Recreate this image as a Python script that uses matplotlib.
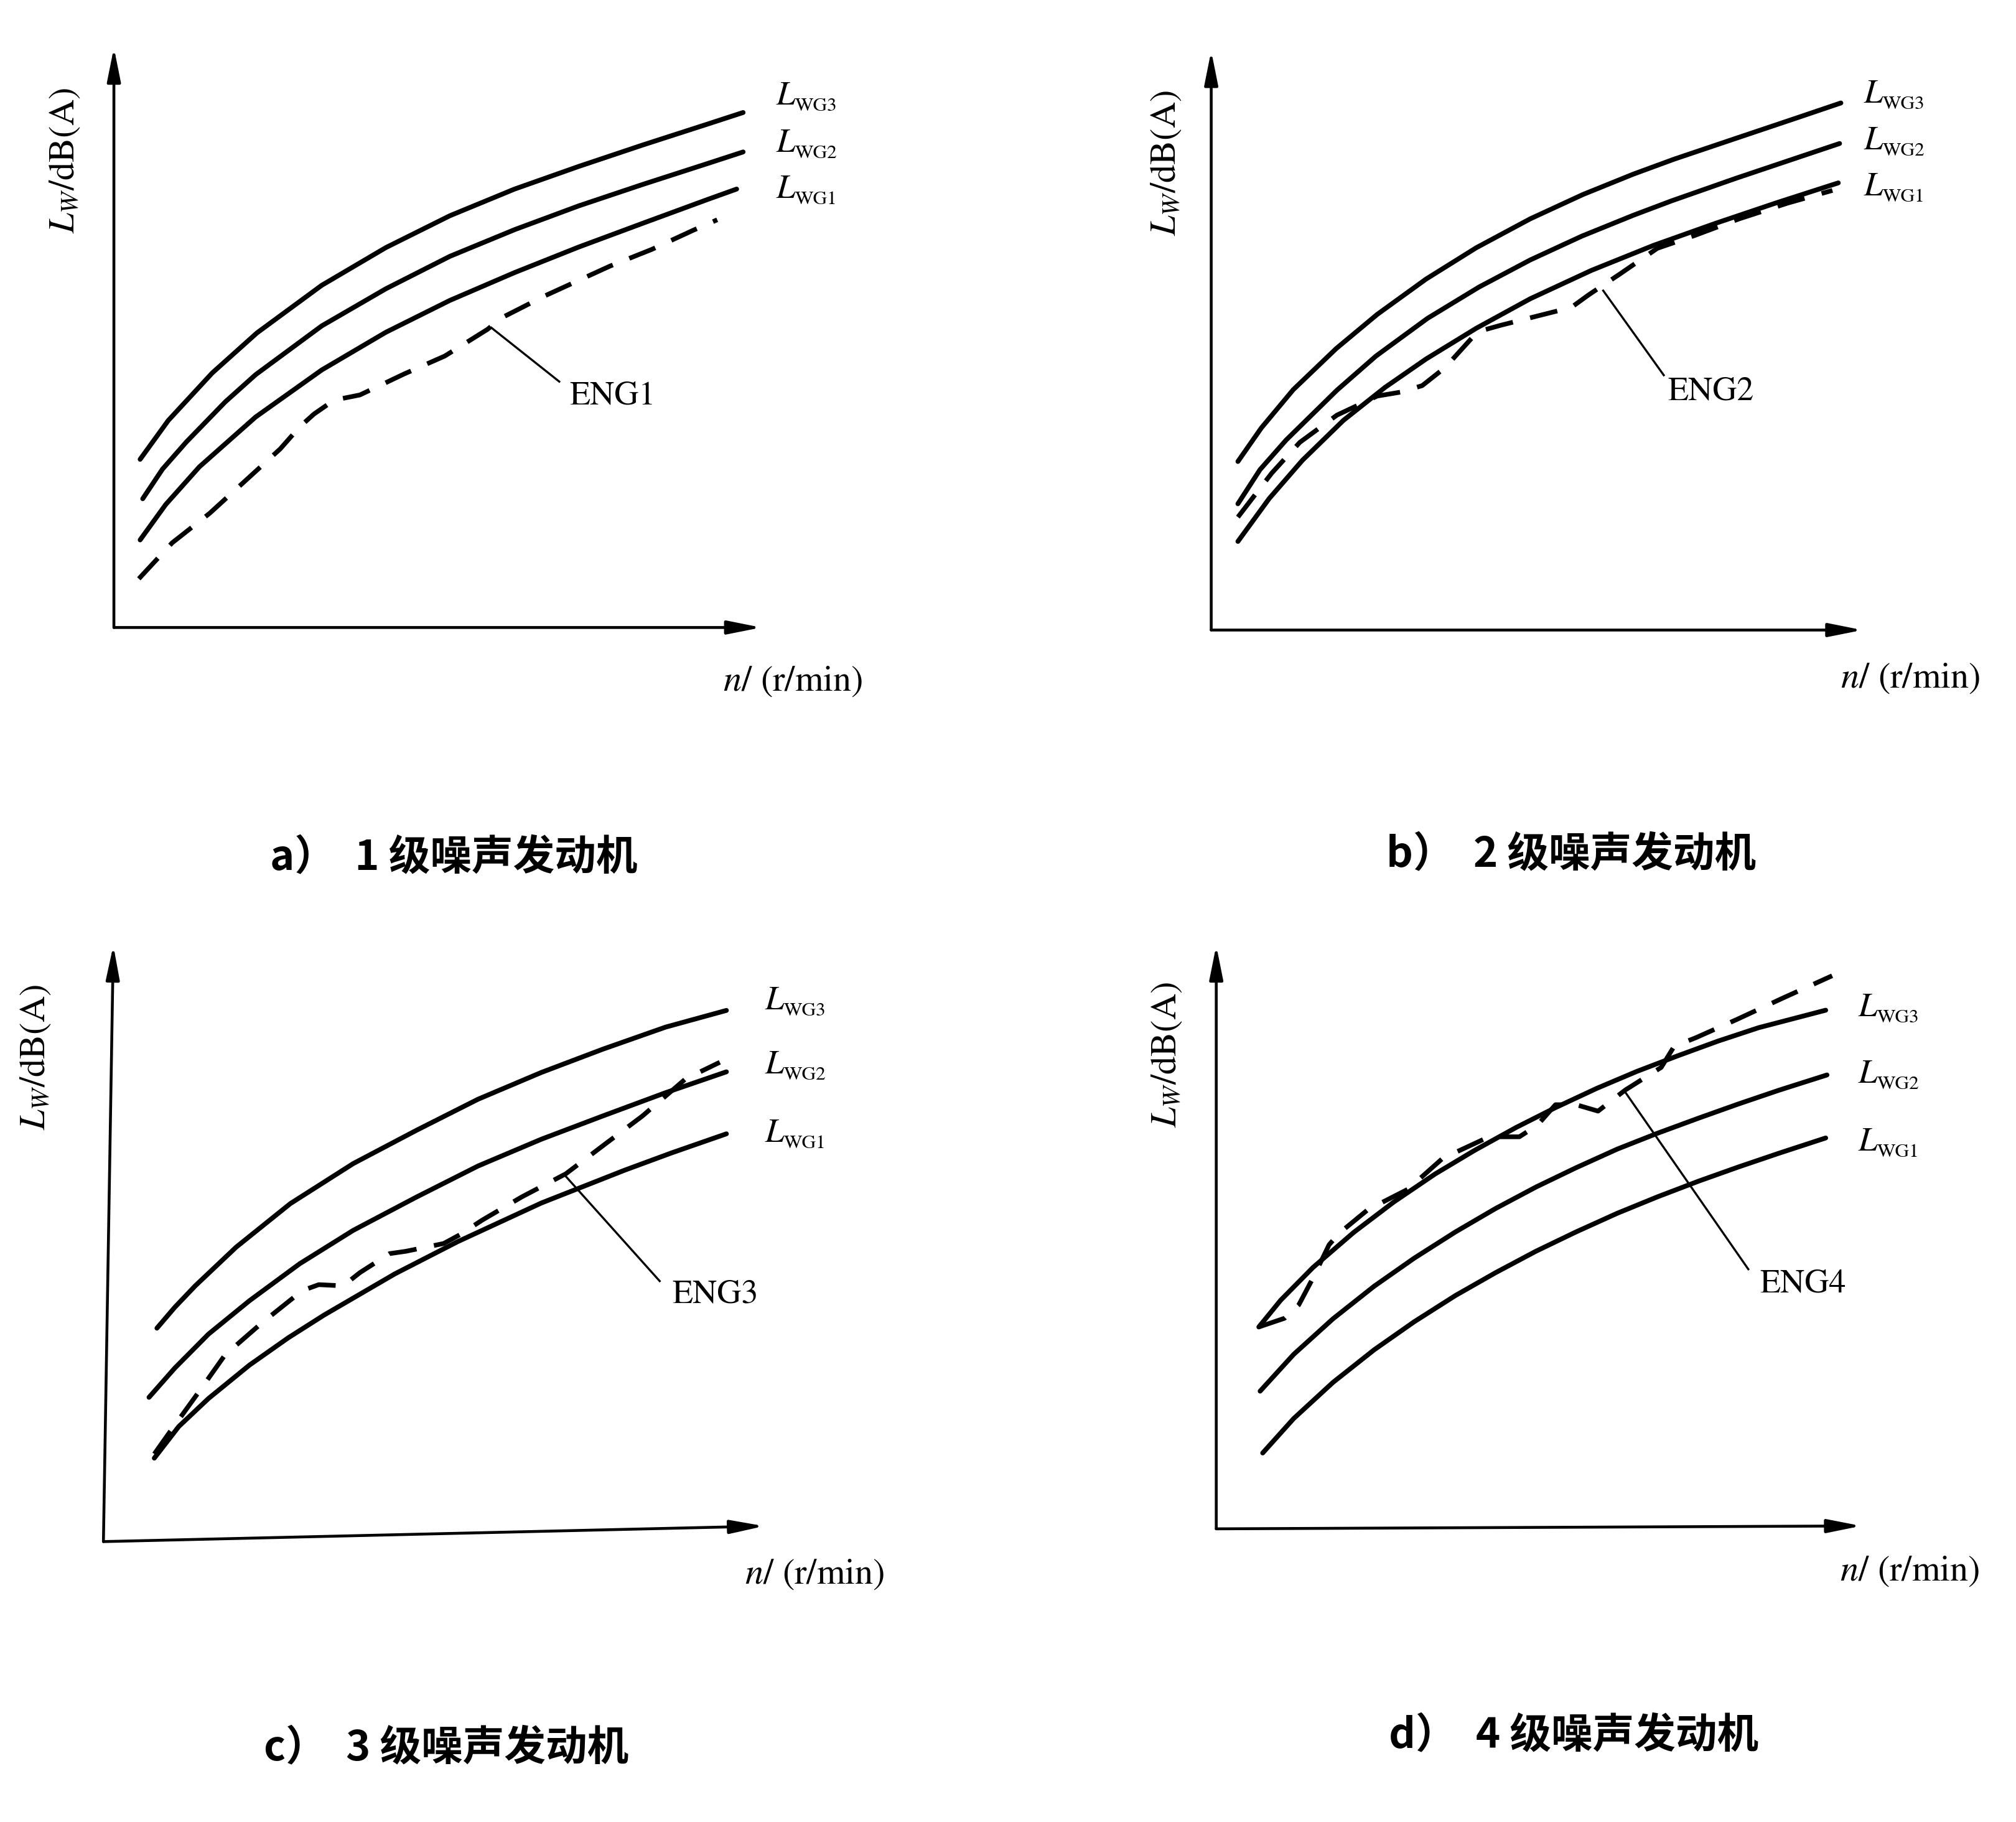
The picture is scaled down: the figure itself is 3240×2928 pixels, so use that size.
import matplotlib
matplotlib.use('Agg')
import matplotlib.pyplot as plt

# Values are read off the scanned figure. Both axes have no scale, so
# x = engine speed and y = sound power level, each in % of the drawn axis length.

# a) 1 级噪声发动机
a_wg3_x = [4.05, 8.4, 15.2, 22.1, 32.1, 42.0, 51.9, 61.9, 71.8, 81.7, 91.7, 97.2]
a_wg3_y = [29.0, 35.7, 43.9, 50.8, 59.0, 65.5, 71.0, 75.6, 79.5, 83.2, 86.8, 88.8]
a_wg2_x = [4.45, 7.5, 11.2, 17.2, 21.9, 32.1, 42.0, 51.9, 61.9, 71.8, 81.7, 91.7, 97.2]
a_wg2_y = [22.2, 27.3, 32.0, 38.9, 43.6, 52.0, 58.4, 64.0, 68.6, 72.7, 76.4, 80.0, 82.0]
a_wg1_x = [4.05, 8.0, 13.2, 21.9, 32.1, 42.0, 51.9, 61.9, 71.8, 81.7, 91.7, 96.2]
a_wg1_y = [15.1, 21.2, 27.7, 36.3, 44.4, 50.9, 56.4, 61.2, 65.6, 69.7, 73.8, 75.6]
a_eng_x = [3.85, 9.0, 14.8, 20.3, 25.7, 28.7, 30.9, 34.0, 38.0, 41.8, 44.8, 51.1,
           57.7, 59.9, 66.6, 76.6, 83.1, 89.5, 93.2]
a_eng_y = [8.4, 14.6, 19.7, 25.3, 30.8, 34.6, 36.8, 39.2, 40.1, 42.1, 43.7, 46.8,
           51.4, 53.4, 57.2, 62.3, 65.2, 68.5, 70.3]

# b) 2 级噪声发动机
b_wg3_x = [4.1, 7.7, 12.6, 19.2, 25.5, 33.0, 40.7, 49.0, 57.1, 64.8, 71.1, 80.6, 90.4, 96.7]
b_wg3_y = [29.1, 34.9, 41.5, 48.6, 54.5, 60.6, 66.0, 71.0, 75.2, 78.7, 81.3, 84.9, 88.6, 91.0]
b_wg2_x = [4.1, 7.5, 11.5, 19.3, 25.3, 33.2, 41.1, 49.0, 56.9, 64.8, 70.7, 80.6, 90.4, 96.5]
b_wg2_y = [21.8, 27.7, 32.8, 41.4, 47.3, 53.8, 59.2, 63.9, 68.0, 71.6, 74.1, 78.0, 81.7, 84.0]
b_wg1_x = [4.1, 8.9, 14.0, 20.3, 26.7, 33.0, 40.7, 49.0, 58.4, 67.9, 77.4, 86.9, 96.3]
b_wg1_y = [15.3, 22.7, 29.3, 36.2, 41.9, 46.8, 52.1, 57.2, 62.1, 66.4, 70.2, 73.8, 77.2]
b_eng_x = [4.1, 9.3, 13.6, 19.3, 25.5, 29.2, 32.4, 35.9, 40.9, 44.4, 55.3, 58.0,
           62.8, 68.5, 74.2, 81.1, 88.5, 95.4]
b_eng_y = [19.5, 27.1, 32.4, 37.1, 40.4, 41.1, 42.2, 45.3, 51.5, 52.6, 55.7, 57.9,
           61.5, 65.9, 68.1, 71.0, 73.7, 75.9]

# c) 3 级噪声发动机
c_wg3_x = [8.1, 10.8, 13.9, 20.1, 28.3, 37.8, 47.4, 56.7, 66.3, 75.6, 85.1, 94.3]
c_wg3_y = [35.8, 39.3, 42.9, 49.4, 56.7, 63.4, 69.0, 74.2, 78.7, 82.6, 86.3, 89.1]
c_wg2_x = [6.9, 10.8, 15.9, 22.1, 29.7, 37.8, 47.4, 56.7, 66.3, 75.6, 85.1, 94.3]
c_wg2_y = [24.2, 29.1, 34.8, 40.4, 46.6, 52.2, 57.8, 63.0, 67.5, 71.4, 75.3, 78.8]
c_wg1_x = [7.7, 11.4, 15.9, 22.1, 28.0, 33.4, 44.1, 53.6, 66.3, 78.9, 86.0, 94.3]
c_wg1_y = [14.0, 19.3, 24.0, 29.6, 34.2, 38.0, 44.9, 50.3, 56.8, 62.3, 65.2, 68.4]
c_eng_x = [7.7, 10.0, 14.5, 18.4, 24.0, 30.1, 32.6, 36.3, 38.8, 43.3, 45.8, 51.5,
           54.0, 57.3, 63.3, 70.0, 76.2, 81.6, 88.1, 93.3]
c_eng_y = [14.7, 18.3, 25.2, 31.3, 36.7, 42.1, 43.1, 42.9, 45.1, 48.3, 48.7, 50.0,
           51.5, 53.9, 57.8, 61.7, 66.9, 71.4, 77.6, 80.4]

# d) 4 级噪声发动机
d_wg3_x = [6.6, 10.0, 15.0, 21.3, 27.5, 33.9, 40.1, 46.5, 52.6, 59.0, 65.2, 71.6, 77.8, 84.1, 94.5]
d_wg3_y = [34.6, 39.2, 44.8, 50.8, 56.0, 60.8, 64.9, 68.8, 72.2, 75.5, 78.4, 81.1, 83.6, 85.9, 88.9]
d_wg2_x = [6.8, 12.0, 18.1, 24.5, 30.7, 37.1, 43.3, 49.6, 55.8, 62.2, 68.4, 74.8, 80.9, 87.3, 94.7]
d_wg2_y = [23.6, 29.9, 36.0, 41.6, 46.4, 50.9, 54.9, 58.6, 61.9, 65.1, 67.8, 70.4, 72.8, 75.2, 77.8]
d_wg1_x = [7.2, 12.0, 18.1, 24.5, 30.7, 37.1, 43.3, 49.6, 55.8, 62.2, 68.4, 74.8, 80.9, 87.3, 94.5]
d_wg1_y = [13.0, 18.9, 25.1, 30.7, 35.5, 40.0, 43.9, 47.6, 50.9, 54.1, 56.9, 59.6, 62.0, 64.4, 67.0]
d_eng_x = [6.6, 10.6, 12.8, 15.0, 17.5, 19.1, 23.5, 29.7, 35.1, 42.3, 47.0, 49.8, 52.6,
           55.8, 59.2, 63.4, 69.0, 71.0, 74.4, 80.7, 87.9, 95.5]
d_eng_y = [34.6, 36.1, 38.4, 43.0, 48.7, 50.7, 54.7, 58.2, 63.5, 67.2, 67.2, 69.2, 72.7,
           72.7, 71.6, 75.2, 79.1, 82.7, 84.2, 87.3, 91.0, 94.8]

curve_names = ['WG3', 'WG2', 'WG1']
eng_names = ['ENG1', 'ENG2', 'ENG3', 'ENG4']
captions = ['a）  1 级噪声发动机', 'b）  2 级噪声发动机',
            'c）  3 级噪声发动机', 'd）  4 级噪声发动机']

SERIF = 'STIXGeneral'
CJK = ['Noto Sans CJK SC', 'DejaVu Sans']


def build_panels():
    # everything that is layout (box in figure fractions, label spots) lives here
    return [
        dict(box=[0.0565, 0.6556, 0.3211, 0.3183],
             curves=[(a_wg3_x, a_wg3_y), (a_wg2_x, a_wg2_y), (a_wg1_x, a_wg1_y)],
             eng=(a_eng_x, a_eng_y), leader=((58.3, 51.7), (68.8, 42.4)), eng_text=(70.4, 39.9),
             wg_text=(102.3, [90.2, 82.0, 74.1]), ylab=(-7.5, 80.5), xlab=(115.7, -9.4),
             cap=(52.5, -39.7), ytip=(0, 100), xtip=(100, 0)),
        dict(box=[0.6008, 0.6542, 0.3230, 0.3179],
             curves=[(b_wg3_x, b_wg3_y), (b_wg2_x, b_wg2_y), (b_wg1_x, b_wg1_y)],
             eng=(b_eng_x, b_eng_y), leader=((60.2, 58.6), (69.5, 44.0)), eng_text=(70.1, 41.1),
             wg_text=(100.2, [91.0, 83.0, 75.0]), ylab=(-6.9, 80.6), xlab=(118.1, -8.4),
             cap=(55.3, -38.8), ytip=(0, 100), xtip=(100, 0)),
        dict(box=[0.0513, 0.1539, 0.3277, 0.3272],
             curves=[(c_wg3_x, c_wg3_y), (c_wg2_x, c_wg2_y), (c_wg1_x, c_wg1_y)],
             eng=(c_eng_x, c_eng_y), leader=((69.8, 61.5), (84.2, 43.7)), eng_text=(86.1, 41.4),
             wg_text=(100.1, [89.3, 78.5, 67.1]), ylab=(-10.2, 81.3), xlab=(118.2, -5.6),
             cap=(51.9, -34.7), ytip=(1.5, 100), xtip=(100, 2.6)),
        dict(box=[0.6033, 0.1609, 0.3199, 0.3202],
             curves=[(d_wg3_x, d_wg3_y), (d_wg2_x, d_wg2_y), (d_wg1_x, d_wg1_y)],
             eng=(d_eng_x, d_eng_y), leader=((63.2, 75.2), (82.5, 44.5)), eng_text=(84.3, 41.9),
             wg_text=(99.5, [87.9, 76.5, 64.8]), ylab=(-7.6, 81.3), xlab=(118.4, -7.3),
             cap=(55.4, -35.5), ytip=(0, 100), xtip=(100, 0.5)),
    ]


def draw_panel(fig, p, idx):
    ax = fig.add_axes(p['box'])
    ax.set_xlim(0, 100)
    ax.set_ylim(0, 100)
    ax.axis('off')

    # axis arrows
    arrow = dict(arrowstyle='-|>,head_length=1.1,head_width=0.22', lw=1.1,
                 color='black', shrinkA=0, shrinkB=0)
    ax.annotate('', xy=p['ytip'], xytext=(0, 0), arrowprops=arrow, annotation_clip=False)
    ax.annotate('', xy=p['xtip'], xytext=(0, 0), arrowprops=arrow, annotation_clip=False)

    # limit curves L_WG3 / L_WG2 / L_WG1
    for x, y in p['curves']:
        ax.plot(x, y, color='black', lw=1.85, solid_capstyle='round',
                solid_joinstyle='round', clip_on=False)

    # measured engine curve, dashed
    ex, ey = p['eng']
    line, = ax.plot(ex, ey, color='black', lw=1.8, clip_on=False)
    line.set_dashes((6, 3.8))

    # leader line + name
    (x0, y0), (x1, y1) = p['leader']
    ax.plot([x0, x1], [y0, y1], color='black', lw=0.8, clip_on=False)
    ax.text(p['eng_text'][0], p['eng_text'][1], eng_names[idx], fontsize=13,
            family=SERIF, ha='left', va='center')

    # curve labels
    lx, lys = p['wg_text']
    for name, ly in zip(curve_names, lys):
        ax.text(lx, ly, 'L', fontsize=13, family=SERIF, style='italic',
                ha='left', va='baseline')
        ax.annotate(name, xy=(lx, ly), xytext=(7.4, -2.4), textcoords='offset points',
                    fontsize=7.5, family=SERIF, ha='left', va='baseline',
                    annotation_clip=False)

    # axis titles
    ax.text(p['ylab'][0], p['ylab'][1], r'$L_W$/dB(A)', fontsize=14, family=SERIF,
            rotation=90, ha='center', va='center')
    ax.text(p['xlab'][0], p['xlab'][1], r'$n$/ (r/min)', fontsize=14, family=SERIF,
            ha='right', va='center')

    # caption under the panel
    ax.text(p['cap'][0], p['cap'][1], captions[idx], fontsize=16, family=CJK,
            fontweight='bold', ha='center', va='center')


def main():
    plt.rcParams['mathtext.fontset'] = 'stix'
    fig = plt.figure(figsize=(10.8, 9.76), dpi=300)
    fig.patch.set_facecolor('white')
    for i, p in enumerate(build_panels()):
        draw_panel(fig, p, i)
    fig.savefig('out.png', dpi=300, facecolor='white')
    plt.close(fig)


if __name__ == "__main__":
    main()
